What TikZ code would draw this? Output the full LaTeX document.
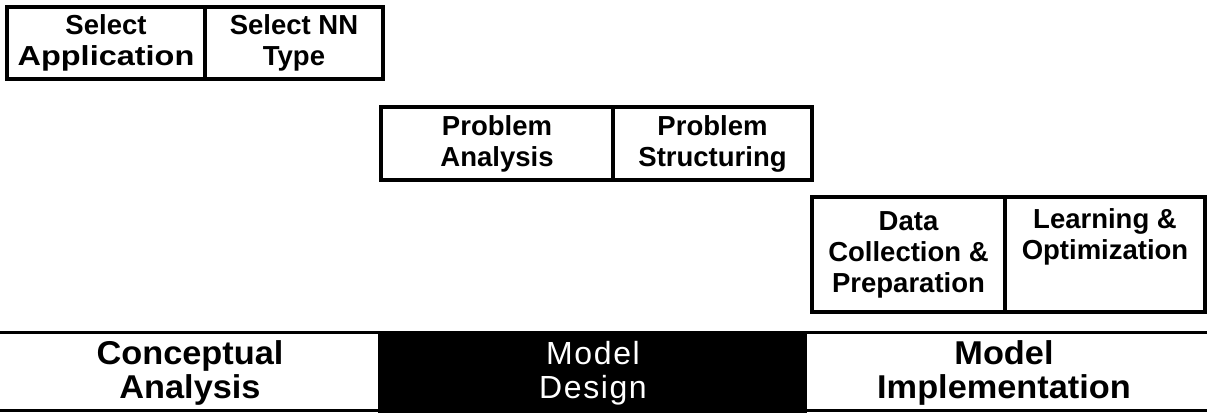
\documentclass[tikz,border=0pt]{standalone}
\usepackage{graphicx}
\usepackage{fontspec}
\setmainfont{Liberation Sans}
\newfontfamily\bandfont[FakeStretch=1.04]{Liberation Sans}
\newfontfamily\spacedfont[LetterSpace=5]{Liberation Sans}
\begin{document}
\begin{tikzpicture}[x=1pt,y=-1pt,
  box/.style={draw, line width=4.5pt, inner sep=0pt, align=center,
    font=\fontsize{27.5}{31}\selectfont\bfseries},
  bandtext/.style={align=center, inner sep=0pt, font=\bandfont\fontsize{33}{34.5}\selectfont\bfseries},
  bandline/.style={line width=3pt}]
\useasboundingbox (0,0) rectangle (1207,413);
% row 1
\node[box, minimum width=198pt, minimum height=72pt] (sa) at (106,43) {Select\\\scalebox{1.18}[1]{Application}};
\node[box, minimum width=178pt, minimum height=72pt] (snn) at (294,43) {Select NN\\Type};
% row 2
\node[box, minimum width=232pt, minimum height=73pt] (pa) at (497,143.5) {Problem\\Analysis};
\node[box, minimum width=199pt, minimum height=73pt] (ps) at (712.5,143.5) {Problem\\Structuring};
% row 3
\node[box, minimum width=193pt, minimum height=115pt] (dc) at (908.5,254.5) {Data\\Collection \&\\Preparation};
\node[box, minimum width=200pt, minimum height=115pt] (lo) at (1105,254.5) {Learning \&\\Optimization\\\strut};
% band
\draw[bandline] (0,332) -- (1207,332);
\draw[bandline] (0,410) -- (1207,410);
\fill[black] (378,333) rectangle (807,413);
\node[bandtext] (ca) at (190,373) {Conceptual\\Analysis};
\node[bandtext, text=white, font=\fontsize{32}{34.5}\selectfont\spacedfont] (md) at (593,373) {Model\\Design};
\node[bandtext] (mi) at (1004,373) {Model\\Implementation};
\end{tikzpicture}
\end{document}
